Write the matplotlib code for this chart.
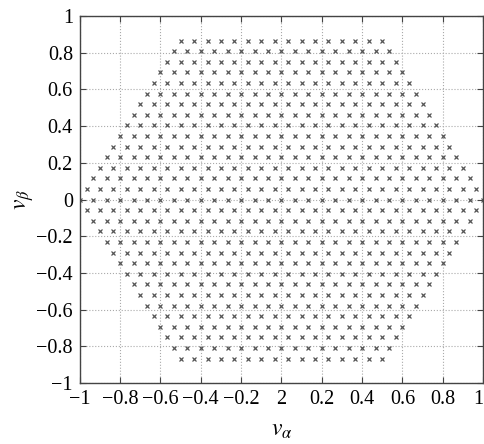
import numpy as np
import matplotlib.pyplot as plt

# space vectors of a multilevel inverter (levels 0..n per phase), normalised to the hexagon
n_levels = 16
xticks = [-1, -0.8, -0.6, -0.4, -0.2, 0, 0.2, 0.4, 0.6, 0.8, 1]
xticklabels = ['\u22121', '\u22120.8', '\u22120.6', '\u22120.4', '\u22120.2', '2', '0.2', '0.4', '0.6', '0.8', '1']
yticks = [-1, -0.8, -0.6, -0.4, -0.2, 0, 0.2, 0.4, 0.6, 0.8, 1]
yticklabels = ['\u22121', '\u22120.8', '\u22120.6', '\u22120.4', '\u22120.2', '0', '0.2', '0.4', '0.6', '0.8', '1']

n = n_levels - 1
pts = set()
for a in range(n + 1):
    for b in range(n + 1):
        for c in range(n + 1):
            va = (2 * a - b - c) / (2 * n)
            vb = np.sqrt(3) * (b - c) / (2 * n)
            pts.add((round(va, 6), round(vb, 6)))
pts = np.array(sorted(pts))

plt.rcParams['font.family'] = 'Liberation Serif'
plt.rcParams['mathtext.fontset'] = 'stix'

fig = plt.figure(figsize=(4.84, 4.44), dpi=100)
ax = fig.add_axes([0.165, 0.137, 0.833, 0.827])
ax.plot(pts[:, 0], pts[:, 1], 'x', color='#555555', ms=3.2, mew=0.9)

ax.set_xlim(-1, 1)
ax.set_ylim(-1, 1)
ax.set_xticks(xticks)
ax.set_xticklabels(xticklabels)
ax.set_yticks(yticks)
ax.set_yticklabels(yticklabels)
ax.tick_params(direction='in', top=True, right=True, labelsize=14.5, length=4, color='#444444', pad=5)
# keep the last label inside the figure
ax.get_xticklabels()[-1].set_horizontalalignment('right')
ax.grid(True, linestyle=':', color='#aaaaaa', linewidth=0.8)
for s in ax.spines.values():
    s.set_color('#444444')
    s.set_linewidth(1.0)

ax.set_xlabel(r'$v_\alpha$', fontsize=17, labelpad=8)
ax.set_ylabel(r'$v_\beta$', fontsize=17, labelpad=0)

fig.savefig('out.png', dpi=100)
